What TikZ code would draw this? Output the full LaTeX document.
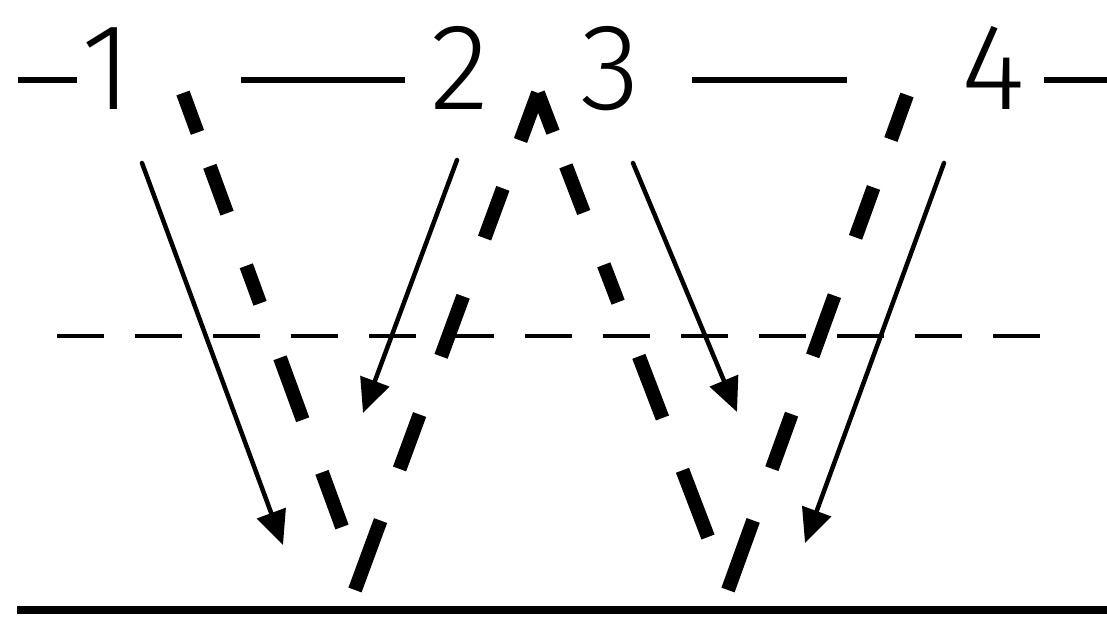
\documentclass[tikz,border=0pt]{standalone}
\usepackage{fontspec}
\IfFontExistsTF{Fira Sans Light}
  {\newfontfamily\digitfont{Fira Sans Light}\def\digitsize{123}}
  {\IfFontExistsTF{Open Sans Light}
    {\newfontfamily\digitfont{Open Sans Light}\def\digitsize{119}}
    {\newfontfamily\digitfont{Liberation Sans}\def\digitsize{119}}}
\usetikzlibrary{arrows.meta}

\tikzset{
  ray/.style={line width=4.5pt, -{Triangle[length=34pt,width=30pt]}},
  wave/.style={line width=14pt, line cap=butt},
  downwave/.style={wave, dash pattern=on 42pt off 36pt on 50pt off 56pt on 40pt off 58pt on 66pt off 56pt on 120pt},
  upwave/.style={wave, dash pattern=on 74pt off 55pt on 58pt off 62pt on 64pt off 62pt on 53pt off 51pt on 120pt},
  level/.style={line width=6.5pt, line cap=butt},
  digit/.style={anchor=base, inner sep=0pt, font=\digitfont\fontsize{\digitsize}{\digitsize}\selectfont},
}

\begin{document}
\begin{tikzpicture}[x=1pt, y=-1pt, line cap=round, line join=round]

  %% ════ 顶线与编号 ════
  \node[digit] (n1) at (107,110) {1};
  \node[digit] (n2) at (460,110) {2};
  \node[digit] (n3) at (610,110) {3};
  \node[digit] (n4) at (993,110) {4};
  \draw[level] (18,80) -- (77,80);
  \draw[level] (241,80) -- (405,80);
  \draw[level] (692,80) -- (847,80);
  \draw[level] (1044,80) -- (1107,80);

  %% ════ 粗虚线（两个 V）════
  \coordinate (lvTop)  at (183,93);
  \coordinate (lvBot)  at (342,527);
  \coordinate (lvRise) at (355,590);
  \coordinate (apex)   at (538,93);
  \coordinate (rvBot)  at (708,537);
  \coordinate (rvRise) at (728,590);
  \coordinate (rvTop)  at (907,95);
  \draw[downwave] (lvTop) -- (lvBot);
  \draw[upwave]   (lvRise) -- (apex);
  \draw[downwave] (apex) -- (rvBot);
  \draw[upwave]   (rvRise) -- (rvTop);

  %% ════ 细箭头 ════
  \coordinate (r1a) at (142,163);  \coordinate (r1b) at (283,545);
  \coordinate (r2a) at (457,160);  \coordinate (r2b) at (363,413);
  \coordinate (r3a) at (633,163);  \coordinate (r3b) at (737,412);
  \coordinate (r4a) at (944,163);  \coordinate (r4b) at (805,543);
  \draw[ray] (r1a) -- (r1b);
  \draw[ray] (r2a) -- (r2b);
  \draw[ray] (r3a) -- (r3b);
  \draw[ray] (r4a) -- (r4b);

  %% ════ 中间虚线与底线 ════
  \draw[line width=3.5pt, line cap=butt, dash pattern=on 47pt off 31pt] (57,336) -- (1040,336);
  \draw[line width=8pt, line cap=butt] (17,610) -- (1107,610);

  % 钉死画布
  \pgfresetboundingbox
  \path[use as bounding box] (0,0) rectangle (1107,617);
\end{tikzpicture}
\end{document}
